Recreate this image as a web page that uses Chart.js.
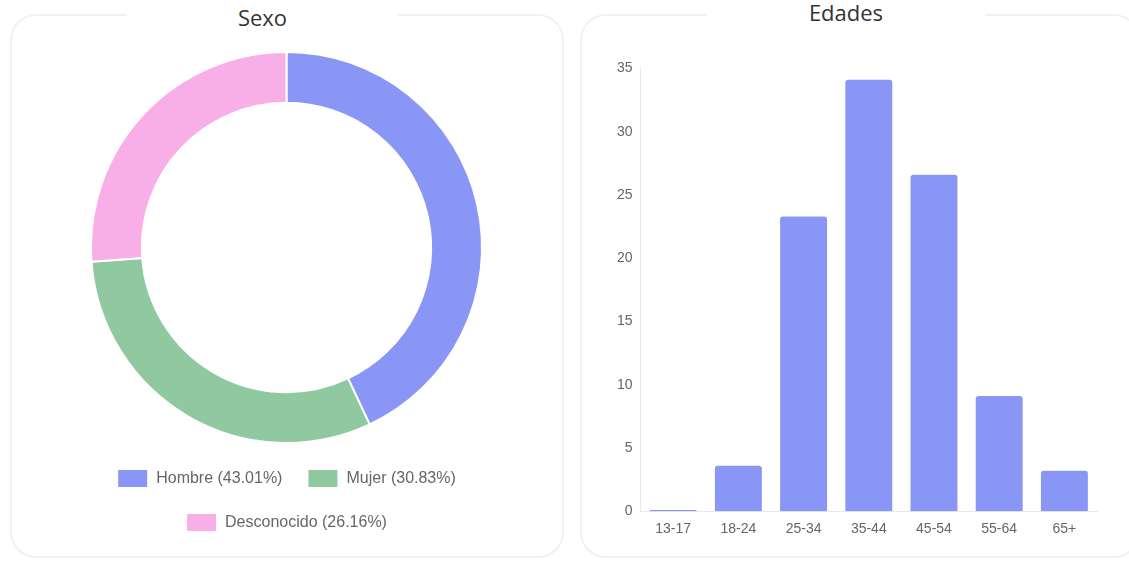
<!DOCTYPE html>
<html>
<head>
<meta charset="utf-8">
<script src="https://cdn.jsdelivr.net/npm/chart.js@4/dist/chart.umd.min.js"></script>
<style>
  body { margin: 0; width: 1129px; height: 562px; background: #fff; overflow: hidden; font-family: "Liberation Sans", Arial, sans-serif; }
  .card { position: absolute; top: 14px; height: 544px; border: 2px solid #eef2f5; border-radius: 26px; box-sizing: border-box; }
  .title { position: absolute; top: 0; background: #fff; text-align: center; font-family: "Open Sans", "Noto Sans", sans-serif; font-size: 22px; color: #333; line-height: 30px; }
  .box { position: absolute; }
</style>
</head>
<body>
<div class="card" style="left:10px; width:554px;"></div>
<div class="card" style="left:580px; width:560px;"></div>
<div class="title" style="left:127px; width:271px; top:2px;">Sexo</div>
<div class="title" style="left:707px; width:278px; top:-3px;">Edades</div>

<div class="box" style="left:10px; top:51px; width:553px; height:491px;"><canvas id="sexoChart"></canvas></div>
<div class="box" style="left:609px; top:52px; width:493px; height:496px;"><canvas id="edadesChart"></canvas></div>

<script>
//----------Sexo / Edades----------

var sexoLabels = ["Hombre (43.01%)", "Mujer (30.83%)", "Desconocido (26.16%)"];
var sexoValues = [43.01, 30.83, 26.16];
var sexoColors = ["#8a96f5", "#90c9a0", "#f8aee7"];

var edadLabels = ["13-17", "18-24", "25-34", "35-44", "45-54", "55-64", "65+"];
var edadValues = [0.1, 3.6, 23.3, 34.1, 26.6, 9.1, 3.2];
var edadTicks = [0, 5, 10, 15, 20, 25, 30, 35];

Chart.defaults.font.family = '"Liberation Sans", Arial, sans-serif';
Chart.defaults.color = '#666';

// Doughnut
// -----------------------------------
var ctx = document.getElementById("sexoChart").getContext('2d');
var sexoChart = new Chart(ctx, {
    type: 'doughnut',
    data: {
        labels: sexoLabels,
        datasets: [{
            data: sexoValues,
            backgroundColor: sexoColors,
            borderColor: '#fff',
            borderWidth: 2
        }]
    },
    options: {
        responsive: true,
        maintainAspectRatio: false,
        animation: false,
        cutout: '74%',
        plugins: {
            legend: {
                display: true,
                position: 'bottom',
                labels: {
                    boxWidth: 31,
                    boxHeight: 19,
                    padding: 25,
                    font: { size: 16 }
                }
            },
            tooltip: { enabled: false }
        }
    }
});

// Bar chart
// -----------------------------------
var ctx2 = document.getElementById("edadesChart").getContext('2d');
var edadesChart = new Chart(ctx2, {
    type: 'bar',
    data: {
        labels: edadLabels,
        datasets: [{
            data: edadValues,
            backgroundColor: '#8a96f5',
            borderRadius: 3,
            borderSkipped: 'bottom'
        }]
    },
    options: {
        responsive: true,
        maintainAspectRatio: false,
        animation: false,
        layout: { padding: { left: 0, right: 5, top: 10, bottom: 0 } },
        plugins: {
            legend: { display: false },
            tooltip: { enabled: false }
        },
        scales: {
            x: {
                grid: { display: false, drawTicks: false },
                border: { display: true, color: '#e8e8e8' },
                ticks: { padding: 10, font: { size: 14 } }
            },
            y: {
                min: 0,
                max: 35,
                afterBuildTicks: function(axis) {
                    axis.ticks = edadTicks.map(function(v){ return { value: v }; });
                },
                grid: { display: false, drawTicks: false },
                border: { display: true, color: '#e8e8e8' },
                ticks: { padding: 8, font: { size: 14 } }
            }
        }
    }
});
</script>
</body>
</html>
